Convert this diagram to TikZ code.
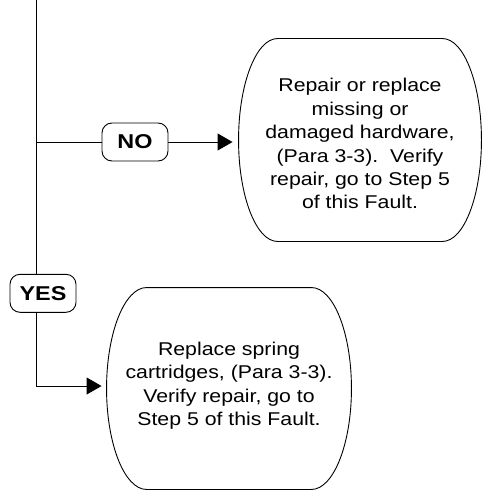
\documentclass[tikz,border=0pt]{standalone}
\usepackage{fontspec}
\setmainfont{Liberation Sans}
\newfontfamily\bodyfont{Liberation Sans}[FakeStretch=1.15]
\newfontfamily\labelfont{Liberation Sans}[FakeStretch=1.17]
\usetikzlibrary{arrows.meta,calc}

\begin{document}
\begin{tikzpicture}[x=1pt,y=-1pt,line width=0.9pt,
  decision/.style={draw,rounded corners=10pt,minimum width=66pt,minimum height=38pt,
    inner sep=0pt,font=\labelfont\bfseries\fontsize{20}{24}\selectfont},
  frame/.style={inner sep=0pt},
  body/.style={align=center,inner sep=0pt,font=\bodyfont\fontsize{18.5}{23.4}\selectfont},
  flow/.style={-{Triangle[length=15pt,width=17pt]}}]
\useasboundingbox (0,0) rectangle (482,497);

% action boxes (outline drawn below) and their texts
\node[frame,minimum width=242pt,minimum height=202pt] (fixA) at (360,140) {};
\node[body] (fixAtext) at (360,143.7)
  {Repair or replace\\missing or\\damaged hardware,\\(Para 3-3).\ \ Verify\\repair, go to Step 5\\of this Fault.};
\node[frame,minimum width=244pt,minimum height=201pt] (fixB) at (229,388.5) {};
\node[body] (fixBtext) at (229,385.8)
  {Replace spring\\cartridges, (Para 3-3).\\Verify repair, go to\\Step 5 of this Fault.};

% decision labels
\node[decision] (no) at (135,142) {NO};
\node[decision] (yes) at (43,293.3) {YES};

% trunk and branch points
\coordinate (top) at (36,0);
\coordinate (j1) at (36,142);
\coordinate (j2) at (36,386);

\draw (top) -- (top |- yes.north);
\draw (top |- yes.south) -- (j2);
\draw (j1) -- (no.west);
\draw[flow,shorten >=6pt] (no.east) -- (no.east -| fixA.west);
\draw[flow,shorten >=5pt] (j2) -- (j2 -| fixB.west);

% barrel-shaped outlines: flat top and bottom, half-elliptical sides
% (\c = horizontal radius of the side ellipse, \a and \b = Bezier handles)
\foreach \n/\c/\a/\b in {fixA/39/21.5/55.8,fixB/40/22/55.5} {
  \draw ($(\n.north west)+(\c,0)$) -- ($(\n.north east)+(-\c,0)$)
    .. controls +(\a,0) and ($(\n.east)+(0,-\b)$) .. (\n.east)
    .. controls ($(\n.east)+(0,\b)$) and ($(\n.south east)+(-\c+\a,0)$) .. ($(\n.south east)+(-\c,0)$)
    -- ($(\n.south west)+(\c,0)$)
    .. controls +(-\a,0) and ($(\n.west)+(0,\b)$) .. (\n.west)
    .. controls ($(\n.west)+(0,-\b)$) and ($(\n.north west)+(\c-\a,0)$) .. cycle;
}
\end{tikzpicture}
\end{document}
